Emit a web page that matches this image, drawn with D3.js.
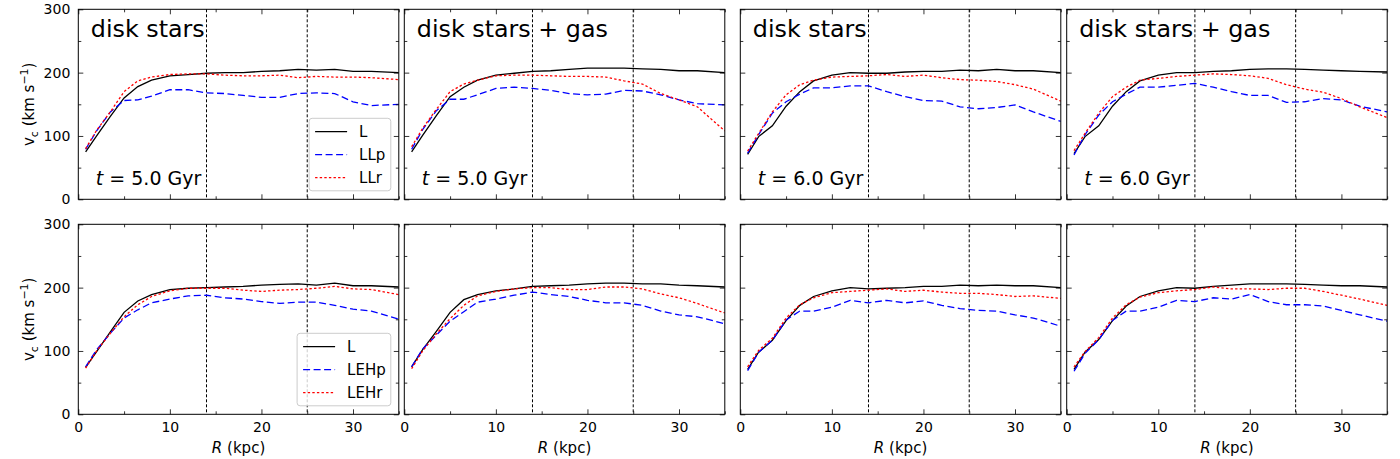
<!DOCTYPE html>
<html>
<head>
<meta charset="utf-8">
<script src="https://cdn.jsdelivr.net/npm/d3@7"></script>
<style>
  body { margin: 0; background: #fff; }
  svg { font-family: "DejaVu Sans", sans-serif; }
</style>
</head>
<body>
<div id="chart-area"></div>
<script>
// radius grid (kpc), shared by every curve
const R = [0.8, 2, 3.5, 5, 6.5, 8, 10, 12, 14, 16, 18, 20, 22, 24, 26, 28, 30, 32, 35]

// top row: L / LLp / LLr
const L1   = [75, 100, 131, 160, 178, 188, 195, 197, 199, 200, 200, 202, 203, 205, 204, 205, 202, 202, 200]
const LLp1 = [79, 108, 138, 156, 157, 163, 173, 173, 168, 167, 164, 161, 161, 167, 168, 167, 154, 148, 150]
const LLr1 = [80, 109, 138, 170, 187, 193, 197, 198, 198, 196, 195, 195, 196, 192, 194, 193, 193, 192, 189]

const L2   = [75, 101, 132, 162, 177, 188, 196, 199, 202, 203, 205, 207, 207, 207, 206, 205, 203, 203, 200]
const LLp2 = [79, 110, 140, 158, 158, 165, 175, 177, 175, 172, 167, 165, 166, 172, 171, 165, 157, 151, 149]
const LLr2 = [83, 112, 142, 170, 182, 188, 195, 196, 196, 195, 194, 194, 193, 187, 182, 167, 157, 146, 108]

const L3   = [71, 99, 116, 147, 170, 187, 196, 200, 199, 199, 201, 202, 202, 204, 203, 205, 203, 203, 200]
const LLp3 = [73, 102, 136, 154, 166, 176, 176, 179, 179, 170, 162, 156, 155, 146, 143, 145, 149, 138, 123]
const LLr3 = [76, 104, 138, 165, 181, 188, 193, 194, 195, 197, 194, 196, 192, 189, 188, 186, 181, 174, 155]

const L4   = [72, 99, 116, 147, 170, 187, 196, 200, 200, 202, 203, 205, 206, 206, 205, 204, 203, 202, 201]
const LLp4 = [70, 102, 133, 154, 166, 177, 177, 180, 183, 177, 170, 164, 164, 153, 154, 159, 157, 147, 138]
const LLr4 = [77, 104, 136, 162, 177, 188, 191, 194, 196, 198, 197, 195, 191, 181, 174, 169, 159, 146, 129]

// bottom row: L / LEHp / LEHr
const L5    = [74, 99, 130, 161, 179, 189, 197, 199, 200, 201, 202, 204, 205, 206, 204, 207, 203, 203, 201]
const LEHp5 = [75, 102, 128, 152, 165, 176, 182, 187, 188, 184, 182, 178, 175, 177, 177, 172, 166, 163, 150]
const LEHr5 = [73, 100, 128, 154, 173, 186, 195, 199, 199, 199, 196, 194, 196, 197, 199, 202, 198, 197, 189]

const L6    = [75, 102, 131, 161, 181, 189, 195, 198, 202, 203, 204, 206, 207, 207, 206, 206, 204, 203, 201]
const LEHp6 = [75, 103, 125, 147, 162, 177, 182, 188, 193, 189, 186, 180, 176, 176, 172, 163, 157, 154, 143]
const LEHr6 = [72, 100, 127, 151, 172, 187, 194, 198, 200, 200, 197, 197, 201, 201, 198, 190, 184, 175, 160]

const L7    = [71, 98, 117, 148, 172, 186, 195, 200, 198, 199, 200, 202, 202, 204, 203, 204, 203, 203, 200]
const LEHp7 = [69, 98, 117, 149, 163, 163, 169, 180, 176, 180, 176, 179, 172, 167, 164, 163, 157, 152, 139]
const LEHr7 = [75, 101, 120, 152, 173, 184, 192, 194, 196, 198, 194, 196, 193, 191, 191, 189, 186, 187, 183]

const L8    = [71, 98, 118, 148, 171, 186, 195, 200, 199, 202, 204, 206, 206, 206, 205, 204, 203, 203, 201]
const LEHp8 = [68, 96, 118, 148, 163, 163, 169, 180, 178, 184, 182, 189, 178, 173, 173, 171, 164, 157, 147]
const LEHr8 = [75, 99, 121, 152, 173, 185, 192, 195, 197, 201, 198, 198, 197, 199, 199, 194, 188, 182, 172]

const titles = ["disk stars", "disk stars + gas", "disk stars", "disk stars + gas"]
const times = ["5.0", "5.0", "6.0", "6.0"]
const vLines = [14, 25]
const xTicks = [0, 10, 20, 30]
const xMinor = [5, 15, 25, 35]
const yTicks = [0, 100, 200, 300]
const yMinor = [50, 150, 250]
const topNames = ["L", "LLp", "LLr"]
const bottomNames = ["L", "LEHp", "LEHr"]

const topSeries = [[L1, LLp1, LLr1], [L2, LLp2, LLr2], [L3, LLp3, LLr3], [L4, LLp4, LLr4]]
const bottomSeries = [[L5, LEHp5, LEHr5], [L6, LEHp6, LEHr6], [L7, LEHp7, LEHr7], [L8, LEHp8, LEHr8]]

// layout
const COL_X = [78.3, 404.3, 740.3, 1066.7]
const ROW_Y = [9.3, 224.3]
const W = 320.5
const H = 190

const STYLES = [
  {color: "#000000", dash: null},
  {color: "#0000ff", dash: "7,3.5"},
  {color: "#ff0000", dash: "2.4,2.2"}
]

const svg = d3.select("#chart-area").append("svg")
  .attr("width", 1400)
  .attr("height", 459)

const x = d3.scaleLinear().domain([0, 35]).range([0, W])
const y = d3.scaleLinear().domain([0, 300]).range([H, 0])

const line = d3.line()
  .x(d => x(d[0]))
  .y(d => y(d[1]))

function drawPanel (row, col) {
  const g = svg.append("g")
    .attr("transform", `translate(${COL_X[col]}, ${ROW_Y[row]})`)

  const series = row === 0 ? topSeries[col] : bottomSeries[col]
  const names = row === 0 ? topNames : bottomNames

  // clip so curves stop at the frame
  const clipId = `clip-${row}-${col}`
  g.append("clipPath").attr("id", clipId)
    .append("rect").attr("width", W).attr("height", H)

  // reference radii
  g.selectAll(".vline").data(vLines).enter().append("line")
    .attr("x1", d => x(d)).attr("x2", d => x(d))
    .attr("y1", 0).attr("y2", H)
    .attr("stroke", "#000")
    .attr("stroke-width", 1)
    .attr("stroke-dasharray", "3,2")

  // curves
  const curves = g.append("g").attr("clip-path", `url(#${clipId})`)
  series.forEach((vals, i) => {
    curves.append("path")
      .datum(R.map((r, j) => [r, vals[j]]))
      .attr("d", line)
      .attr("fill", "none")
      .attr("stroke", STYLES[i].color)
      .attr("stroke-width", 1.3)
      .attr("stroke-dasharray", STYLES[i].dash)
  })

  // ticks, all pointing inward, on four sides
  const bottom = d3.axisBottom(x).tickValues(xTicks).tickSizeInner(-5).tickSizeOuter(0).tickPadding(8)
  if (row === 0) bottom.tickFormat("")
  g.append("g").attr("class", "axis").attr("transform", `translate(0, ${H})`).call(bottom)
  g.append("g").attr("class", "axis").attr("transform", `translate(0, ${H})`)
    .call(d3.axisBottom(x).tickValues(xMinor).tickSizeInner(-3).tickSizeOuter(0).tickFormat(""))
  g.append("g").attr("class", "axis")
    .call(d3.axisTop(x).tickValues(xTicks.concat(xMinor)).tickSize(-5).tickFormat(""))
    .selectAll(".tick line").attr("y2", d => xMinor.includes(d) ? 3 : 5)

  const left = d3.axisLeft(y).tickValues(yTicks).tickSizeInner(-5).tickSizeOuter(0).tickPadding(8)
  if (col !== 0) left.tickFormat("")
  g.append("g").attr("class", "axis").call(left)
  g.append("g").attr("class", "axis")
    .call(d3.axisLeft(y).tickValues(yMinor).tickSizeInner(-3).tickSizeOuter(0).tickFormat(""))
  g.append("g").attr("class", "axis").attr("transform", `translate(${W}, 0)`)
    .call(d3.axisRight(y).tickValues(yTicks.concat(yMinor)).tickSize(-5).tickFormat(""))
    .selectAll(".tick line").attr("x2", d => yMinor.includes(d) ? -3 : -5)

  g.selectAll(".axis .domain").remove()
  g.selectAll(".axis text")
    .attr("font-size", "14px")
    .attr("font-family", "DejaVu Sans")
    .attr("fill", "#000")
  g.selectAll(".axis line").attr("stroke", "#000").attr("stroke-width", 0.8)

  // frame
  g.append("rect")
    .attr("width", W).attr("height", H)
    .attr("fill", "none")
    .attr("stroke", "#000")
    .attr("stroke-width", 1)

  // panel labels
  if (row === 0) {
    g.append("text")
      .attr("x", 12.5).attr("y", 28)
      .attr("font-size", "23.8px")
      .text(titles[col])

    const t = g.append("text")
      .attr("x", 17.5).attr("y", 176)
      .attr("font-size", "19px")
    t.append("tspan").attr("font-style", "italic").text("t")
    t.append("tspan").text(` = ${times[col]} Gyr`)
  }

  if (row === 1) {
    const xl = g.append("text")
      .attr("x", W / 2).attr("y", H + 39)
      .attr("text-anchor", "middle")
      .attr("font-size", "15px")
    xl.append("tspan").attr("font-style", "italic").text("R")
    xl.append("tspan").text(" (kpc)")
  }

  if (col === 0) {
    const yl = g.append("text")
      .attr("transform", `translate(-44, ${H / 2}) rotate(-90)`)
      .attr("text-anchor", "middle")
      .attr("font-size", "15px")
    yl.append("tspan").text("v")
    yl.append("tspan").attr("font-size", "11px").attr("dy", 4).text("c")
    yl.append("tspan").attr("dy", -4).text(" (km s")
    yl.append("tspan").attr("font-size", "11px").attr("dy", -6).text("−1")
    yl.append("tspan").attr("dy", 6).text(")")

    // legend
    const lw = row === 0 ? 81.7 : 93.7
    const lg = g.append("g").attr("transform", `translate(${W - 8 - lw}, 109)`)
    lg.append("rect")
      .attr("width", lw).attr("height", 72.5)
      .attr("rx", 3)
      .attr("fill", "#fff").attr("fill-opacity", 0.8)
      .attr("stroke", "#cccccc")
    names.forEach((name, i) => {
      const cy = 13.4 + i * 23
      lg.append("line")
        .attr("x1", 6).attr("x2", 38)
        .attr("y1", cy).attr("y2", cy)
        .attr("stroke", STYLES[i].color)
        .attr("stroke-width", 1.3)
        .attr("stroke-dasharray", STYLES[i].dash)
      lg.append("text")
        .attr("x", 50).attr("y", cy + 5.5)
        .attr("font-size", "15px")
        .text(name)
    })
  }
}

for (let row = 0; row < 2; row++) {
  for (let col = 0; col < 4; col++) drawPanel(row, col)
}
</script>
</body>
</html>
